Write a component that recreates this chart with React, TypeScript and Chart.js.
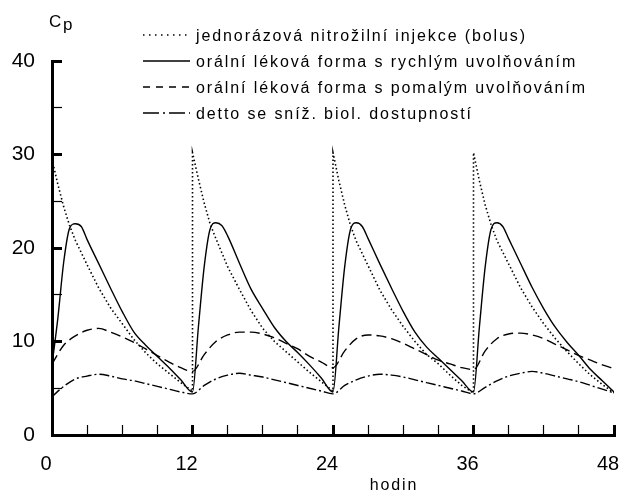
import React, { useEffect, useRef } from 'react';
import { Chart, registerables } from 'chart.js';

Chart.register(...registerables);

const FONT = '"Liberation Sans", Arial, Helvetica, sans-serif';

const seriesLabels = [
  'jednorázová nitrožilní injekce (bolus)',
  'orální léková forma s rychlým uvolňováním',
  'orální léková forma s pomalým uvolňováním',
  'detto se sníž. biol. dostupností',
];

const yAxisTitle = ['C', 'p'];
const xAxisTitle = 'hodin';

const xTickValues = [0, 12, 24, 36, 48];
const yTickValues = [0, 10, 20, 30, 40];

// bolus (i.v. injection) – repeated every 12 h
const bolusHours = [
  0, 0.5, 1, 1.5, 2, 3, 4, 5, 6, 7, 8, 9, 10, 11, 12,
  12, 12.5, 13, 13.5, 14, 15, 16, 17, 18, 19, 20, 21, 22, 23, 24,
  24, 24.5, 25, 25.5, 26, 27, 28, 29, 30, 31, 32, 33, 34, 35, 36,
  36, 36.5, 37, 37.5, 38, 39, 40, 41, 42, 43, 44, 45, 46, 47, 48,
];
const bolusValues = [
  29.5, 26.8, 24.4, 22.4, 20.8, 18.2, 15.7, 13.6, 11.9, 10.2, 8.8, 7.6, 6.6, 5.6, 4.7,
  30.2, 27.4, 24.8, 22.6, 21.0, 18.0, 15.6, 13.3, 11.4, 10.0, 8.9, 7.8, 6.7, 5.7, 4.7,
  30.2, 27.2, 24.6, 22.4, 20.7, 18.1, 15.5, 13.4, 11.6, 10.0, 8.6, 7.6, 6.4, 5.3, 4.5,
  30.2, 27.2, 24.6, 22.5, 20.8, 18.3, 15.8, 13.7, 11.9, 10.3, 8.9, 7.6, 6.4, 5.4, 4.5,
];

// rapid release oral form
const rapidHours = [
  0, 0.5, 1, 1.5, 2, 2.5, 3, 4, 5, 6, 7, 8, 9, 10, 11, 12,
  12.5, 13, 13.5, 14, 14.5, 15, 16, 17, 18, 19, 20, 21, 22, 23, 24,
  24.5, 25, 25.5, 26, 26.5, 27, 28, 29, 30, 31, 32, 33, 34, 35, 36,
  36.5, 37, 37.5, 38, 38.5, 39, 40, 41, 42, 43, 44, 45, 46, 47, 48,
];
const rapidValues = [
  7.5, 12.5, 18.5, 22.1, 22.6, 22.3, 20.9, 18.3, 15.7, 13.2, 11.0, 9.6, 8.4, 7.2, 5.9, 4.6,
  11.5, 18.0, 22.0, 22.7, 22.4, 21.3, 18.4, 15.6, 13.5, 11.5, 10.0, 8.8, 7.5, 6.1, 4.6,
  11.5, 18.0, 22.0, 22.7, 22.3, 21.0, 18.3, 15.7, 13.2, 11.0, 9.4, 8.2, 7.0, 5.8, 4.6,
  11.5, 18.0, 22.0, 22.7, 22.3, 21.0, 18.4, 15.8, 13.5, 11.5, 9.9, 8.5, 7.0, 5.8, 4.6,
];

// slow release oral form
const slowHours = [
  0, 1, 2, 3, 4, 5, 6, 7, 8, 9, 10, 11, 12,
  13, 14, 15, 16, 17, 18, 19, 20, 21, 22, 23, 24,
  25, 26, 27, 28, 29, 30, 31, 32, 33, 34, 35, 36,
  37, 38, 39, 40, 41, 42, 43, 44, 45, 46, 47, 48,
];
const slowValues = [
  7.6, 9.6, 10.6, 11.2, 11.4, 11.0, 10.5, 9.9, 9.2, 8.5, 7.8, 7.2, 6.8,
  8.6, 10.0, 10.7, 11.0, 11.0, 10.8, 10.4, 9.8, 9.2, 8.4, 7.8, 7.2,
  9.0, 10.3, 10.7, 10.6, 10.3, 9.8, 9.2, 8.6, 8.0, 7.6, 7.2, 7.0,
  9.0, 10.3, 10.8, 10.9, 10.7, 10.3, 9.7, 9.1, 8.5, 8.0, 7.5, 7.1,
];

// same with reduced bioavailability
const reducedHours = [
  0, 1, 2, 3, 4, 5, 6, 7, 8, 9, 10, 11, 12,
  13, 14, 15, 16, 17, 18, 19, 20, 21, 22, 23, 24,
  25, 26, 27, 28, 29, 30, 31, 32, 33, 34, 35, 36,
  37, 38, 39, 40, 41, 42, 43, 44, 45, 46, 47, 48,
];
const reducedValues = [
  4.1, 5.2, 6.0, 6.3, 6.5, 6.3, 6.0, 5.8, 5.5, 5.2, 4.9, 4.6, 4.4,
  5.3, 6.0, 6.4, 6.6, 6.4, 6.2, 5.9, 5.6, 5.3, 5.0, 4.7, 4.4,
  5.3, 5.9, 6.3, 6.5, 6.4, 6.2, 5.9, 5.6, 5.3, 5.0, 4.7, 4.4,
  5.1, 5.8, 6.3, 6.6, 6.8, 6.6, 6.3, 6.0, 5.7, 5.3, 4.9, 4.5,
];

const lineDashes = [[1.5, 2.5], [], [10, 5], [10, 3, 2, 3]];
const legendDashes = [[1.5, 4.5], [], [7, 6], [16, 4, 2, 4]];

const toPoints = (hours: number[], values: number[]) =>
  hours.map((h, i) => ({ x: h, y: values[i] }));

const textPlugin = {
  id: 'textPlugin',
  afterDraw(chart: any) {
    const ctx = chart.ctx as CanvasRenderingContext2D;
    ctx.save();
    ctx.fillStyle = '#000';
    ctx.strokeStyle = '#000';
    // legend
    chart.data.datasets.forEach((ds: any, i: number) => {
      const y = 35 + i * 26;
      ctx.beginPath();
      ctx.setLineDash(legendDashes[i]);
      ctx.lineWidth = 1.5;
      ctx.moveTo(143, y);
      ctx.lineTo(190, y);
      ctx.stroke();
      ctx.setLineDash([]);
      ctx.font = `16px ${FONT}`;
      (ctx as any).letterSpacing = '1.9px';
      ctx.textAlign = 'left';
      ctx.textBaseline = 'alphabetic';
      ctx.fillText(ds.label, 196, y + 6);
    });
    (ctx as any).letterSpacing = '0px';
    // y title "Cp"
    ctx.font = `17px ${FONT}`;
    ctx.textAlign = 'left';
    ctx.textBaseline = 'alphabetic';
    ctx.fillText(yAxisTitle[0], 49, 27);
    ctx.fillText(yAxisTitle[1], 63, 30);
    // x title
    ctx.font = `16px ${FONT}`;
    (ctx as any).letterSpacing = '1.9px';
    ctx.textAlign = 'center';
    ctx.fillText(xAxisTitle, 394, 490);
    ctx.restore();
  },
};

export default function App() {
  const ref = useRef<HTMLCanvasElement | null>(null);
  useEffect(() => {
    if (!ref.current) return;
    const common = { pointRadius: 0, borderColor: '#000', borderWidth: 1.4, fill: false };
    const chart = new Chart(ref.current, {
      type: 'line',
      data: {
        datasets: [
          { ...common, label: seriesLabels[0], data: toPoints(bolusHours, bolusValues), borderDash: lineDashes[0], tension: 0, borderWidth: 1.6 },
          { ...common, label: seriesLabels[1], data: toPoints(rapidHours, rapidValues), borderDash: lineDashes[1], cubicInterpolationMode: 'monotone' },
          { ...common, label: seriesLabels[2], data: toPoints(slowHours, slowValues), borderDash: lineDashes[2], cubicInterpolationMode: 'monotone' },
          { ...common, label: seriesLabels[3], data: toPoints(reducedHours, reducedValues), borderDash: lineDashes[3], cubicInterpolationMode: 'monotone' },
        ],
      },
      options: {
        animation: false,
        responsive: false,
        devicePixelRatio: 1,
        layout: { padding: { top: 61, right: 10, left: 0, bottom: 0 } },
        plugins: { legend: { display: false }, tooltip: { enabled: false } },
        scales: {
          x: {
            type: 'linear',
            min: 0,
            max: 48,
            afterFit: (s: any) => { s.height = 58; s.paddingLeft = 0; s.paddingRight = 0; },
            afterBuildTicks: (s: any) => {
              const t = [];
              for (let v = 0; v <= 48; v += 3) t.push({ value: v });
              s.ticks = t;
            },
            ticks: {
              autoSkip: false,
              maxRotation: 0,
              padding: 27,
              labelOffset: -6,
              color: '#000',
              font: { family: FONT, size: 20 },
              callback: (v: any) => (xTickValues.includes(Number(v)) ? String(v) : ''),
            },
            grid: {
              display: true,
              drawOnChartArea: false,
              drawTicks: true,
              tickLength: -10,
              tickColor: '#000',
              tickWidth: (c: any) => (c.tick && xTickValues.includes(c.tick.value) ? 3 : 1.2),
            },
            border: { display: true, color: '#000', width: 3 },
          },
          y: {
            type: 'linear',
            min: 0,
            max: 40,
            afterFit: (s: any) => { s.width = 52; s.paddingTop = 0; s.paddingBottom = 0; },
            afterBuildTicks: (s: any) => {
              const t = [];
              for (let v = 0; v <= 40; v += 5) t.push({ value: v });
              s.ticks = t;
            },
            ticks: {
              autoSkip: false,
              padding: 27,
              color: '#000',
              font: { family: FONT, size: 21 },
              callback: (v: any) => (yTickValues.includes(Number(v)) ? String(v) : ''),
            },
            grid: {
              display: true,
              drawOnChartArea: false,
              drawTicks: true,
              tickLength: -10,
              tickColor: '#000',
              tickWidth: (c: any) => (c.tick && yTickValues.includes(c.tick.value) ? 3 : 1.2),
            },
            border: { display: true, color: '#000', width: 3 },
          },
        },
      },
      plugins: [textPlugin],
    });
    return () => chart.destroy();
  }, []);
  return (
    <div style={{ position: 'fixed', left: 0, top: 0, width: 624, height: 493, background: '#fff' }}>
      <canvas ref={ref} width={624} height={493} style={{ display: 'block' }} />
    </div>
  );
}
